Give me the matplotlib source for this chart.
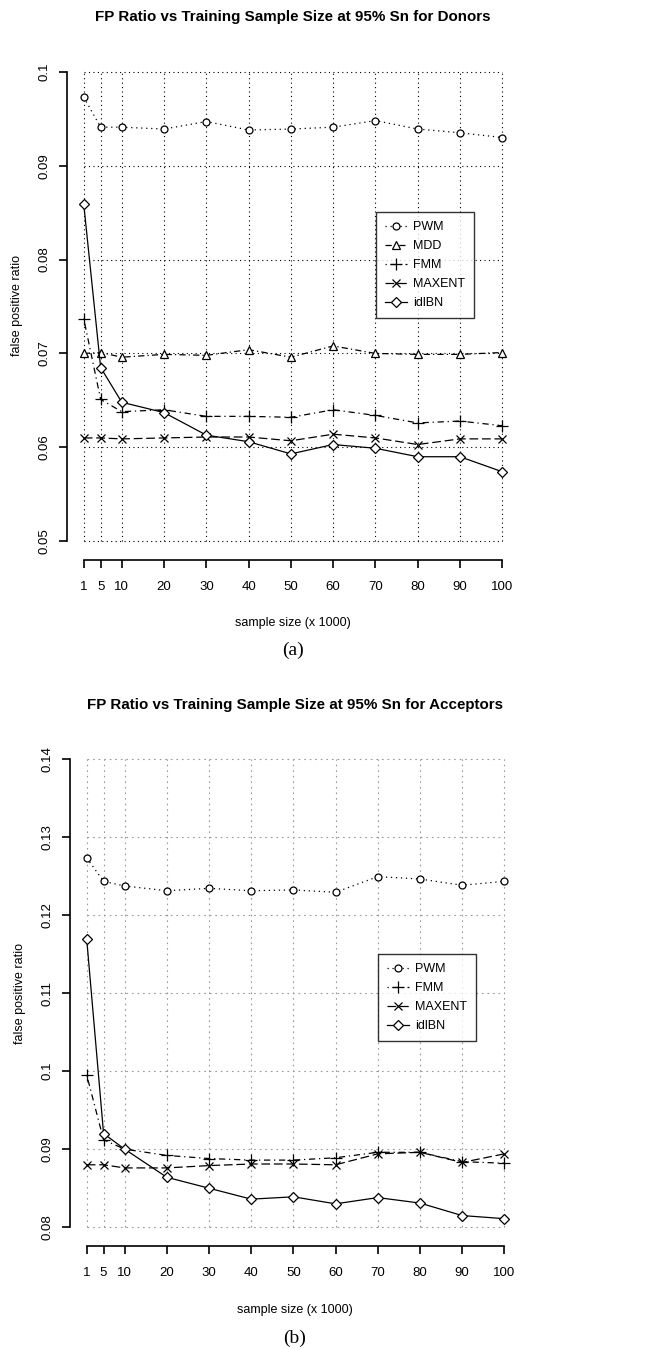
import matplotlib
matplotlib.use("Agg")
import matplotlib.pyplot as plt

plt.rcParams["font.family"] = ["Liberation Sans", "DejaVu Sans"]

sizes = [1, 5, 10, 20, 30, 40, 50, 60, 70, 80, 90, 100]
size_ticks = ["1", "5", "10", "20", "30", "40", "50", "60", "70", "80", "90", "100"]

# (a) donors
donor_pwm = [0.0973, 0.0941, 0.0941, 0.0939, 0.0947, 0.0938, 0.0939, 0.0941, 0.0948, 0.0939, 0.0935, 0.0930]
donor_mdd = [0.0700, 0.0701, 0.0696, 0.0699, 0.0698, 0.0704, 0.0696, 0.0708, 0.0700, 0.0699, 0.0699, 0.0701]
donor_fmm = [0.0737, 0.0651, 0.0638, 0.0640, 0.0633, 0.0633, 0.0632, 0.0640, 0.0634, 0.0626, 0.0628, 0.0623]
donor_maxent = [0.0610, 0.0610, 0.0609, 0.0610, 0.0611, 0.0611, 0.0607, 0.0614, 0.0610, 0.0603, 0.0609, 0.0609]
donor_idlbn = [0.0859, 0.0685, 0.0648, 0.0637, 0.0613, 0.0606, 0.0593, 0.0603, 0.0599, 0.0590, 0.0590, 0.0574]
donor_yticks = [0.05, 0.06, 0.07, 0.08, 0.09, 0.1]
donor_ylabels = ["0.05", "0.06", "0.07", "0.08", "0.09", "0.1"]

# (b) acceptors
acc_pwm = [0.1273, 0.1243, 0.1237, 0.1231, 0.1234, 0.1231, 0.1232, 0.1229, 0.1249, 0.1246, 0.1238, 0.1243]
acc_fmm = [0.0995, 0.0912, 0.0900, 0.0892, 0.0888, 0.0886, 0.0886, 0.0889, 0.0896, 0.0896, 0.0884, 0.0882]
acc_maxent = [0.0880, 0.0880, 0.0876, 0.0876, 0.0879, 0.0881, 0.0881, 0.0880, 0.0894, 0.0896, 0.0883, 0.0894]
acc_idlbn = [0.1169, 0.0920, 0.0900, 0.0864, 0.0850, 0.0836, 0.0839, 0.0830, 0.0838, 0.0831, 0.0815, 0.0811]
acc_yticks = [0.08, 0.09, 0.1, 0.11, 0.12, 0.13, 0.14]
acc_ylabels = ["0.08", "0.09", "0.1", "0.11", "0.12", "0.13", "0.14"]

# line style / marker per method, R-like
styles = {
    "PWM": dict(ls=(0, (1, 3)), marker="o", ms=5),
    "MDD": dict(ls=(0, (5, 2.5, 1, 2.5)), marker="^", ms=6),
    "FMM": dict(ls=(0, (1, 3, 5, 3)), marker="+", ms=8),
    "MAXENT": dict(ls=(0, (7, 3)), marker="x", ms=6),
    "idlBN": dict(ls="-", marker="D", ms=5),
}

W, H = 647, 1349
fig = plt.figure(figsize=(W / 100, H / 100), dpi=100)


def px_axes(left, right, top, bottom):
    return fig.add_axes([left / W, 1 - bottom / H, (right - left) / W, (bottom - top) / H])


def draw_panel(ax, series, yticks, ylabels, grid_color, grid_ls, legend_box):
    lo, hi = yticks[0], yticks[-1]
    pad = (hi - lo) * 0.04
    xpad = (sizes[-1] - sizes[0]) * 0.04
    ax.set_xlim(sizes[0] - xpad, sizes[-1] + xpad)
    ax.set_ylim(lo - pad, hi + pad)

    ax.hlines(yticks, sizes[0], sizes[-1], colors=grid_color, linestyles=[grid_ls], lw=0.8, zorder=1)
    ax.vlines(sizes, lo, hi, colors=grid_color, linestyles=[grid_ls], lw=0.8, zorder=1)

    for name, vals in series:
        st = styles[name]
        ax.plot(sizes, vals, color="black", lw=0.9, ls=st["ls"], marker=st["marker"],
                ms=st["ms"], mfc="white" if st["marker"] in "o^D" else "none",
                mec="black", mew=0.9, label=name, zorder=3)

    for s in ["top", "right"]:
        ax.spines[s].set_visible(False)
    ax.spines["left"].set_bounds(lo, hi)
    ax.spines["bottom"].set_bounds(sizes[0], sizes[-1])
    ax.spines["left"].set_linewidth(1.2)
    ax.spines["bottom"].set_linewidth(1.2)
    ax.set_xticks(sizes)
    ax.set_xticklabels(size_ticks)
    ax.set_yticks(yticks)
    ax.set_yticklabels(ylabels, rotation=90, va="center")
    ax.tick_params(axis="both", direction="out", length=6, width=1.2, labelsize=9.5, color="black")
    ax.tick_params(axis="x", pad=9)
    ax.tick_params(axis="y", pad=6)
    ax.set_facecolor("none")

    lx, ly = legend_box
    leg = ax.legend(loc="upper left", bbox_to_anchor=(lx / W, 1 - ly / H),
                    bbox_transform=fig.transFigure, fontsize=9, frameon=True,
                    fancybox=False, edgecolor="black", handlelength=1.7,
                    handletextpad=0.5, labelspacing=0.55, borderpad=0.75,
                    numpoints=1, borderaxespad=0)
    leg.get_frame().set_linewidth(1.0)


ax1 = px_axes(67, 519, 53, 560)
draw_panel(ax1, [("PWM", donor_pwm), ("MDD", donor_mdd), ("FMM", donor_fmm),
                 ("MAXENT", donor_maxent), ("idlBN", donor_idlbn)],
           donor_yticks, donor_ylabels, "black", (0, (1, 3)), (376, 212))

ax2 = px_axes(70, 521, 740, 1246)
draw_panel(ax2, [("PWM", acc_pwm), ("FMM", acc_fmm), ("MAXENT", acc_maxent),
                 ("idlBN", acc_idlbn)],
           acc_yticks, acc_ylabels, "#999999", (0, (1.5, 3.5)), (378, 954))


# titles and labels in figure pixels
def ftext(x, y, s, **kw):
    fig.text(x / W, 1 - y / H, s, ha="center", va="center", **kw)


ftext(293, 17, "FP Ratio vs Training Sample Size at 95% Sn for Donors", fontsize=10.9, fontweight="bold")
ftext(295, 705, "FP Ratio vs Training Sample Size at 95% Sn for Acceptors", fontsize=10.9, fontweight="bold")
ftext(293, 623, "sample size (x 1000)", fontsize=9)
ftext(295, 1310, "sample size (x 1000)", fontsize=9)
ftext(17, 306, "false positive ratio", fontsize=9, rotation=90)
ftext(20, 993, "false positive ratio", fontsize=9, rotation=90)
ftext(293, 650, "(a)", fontsize=14, family="Liberation Serif")
ftext(295, 1338, "(b)", fontsize=14, family="Liberation Serif")

fig.savefig("out.png", dpi=100)
